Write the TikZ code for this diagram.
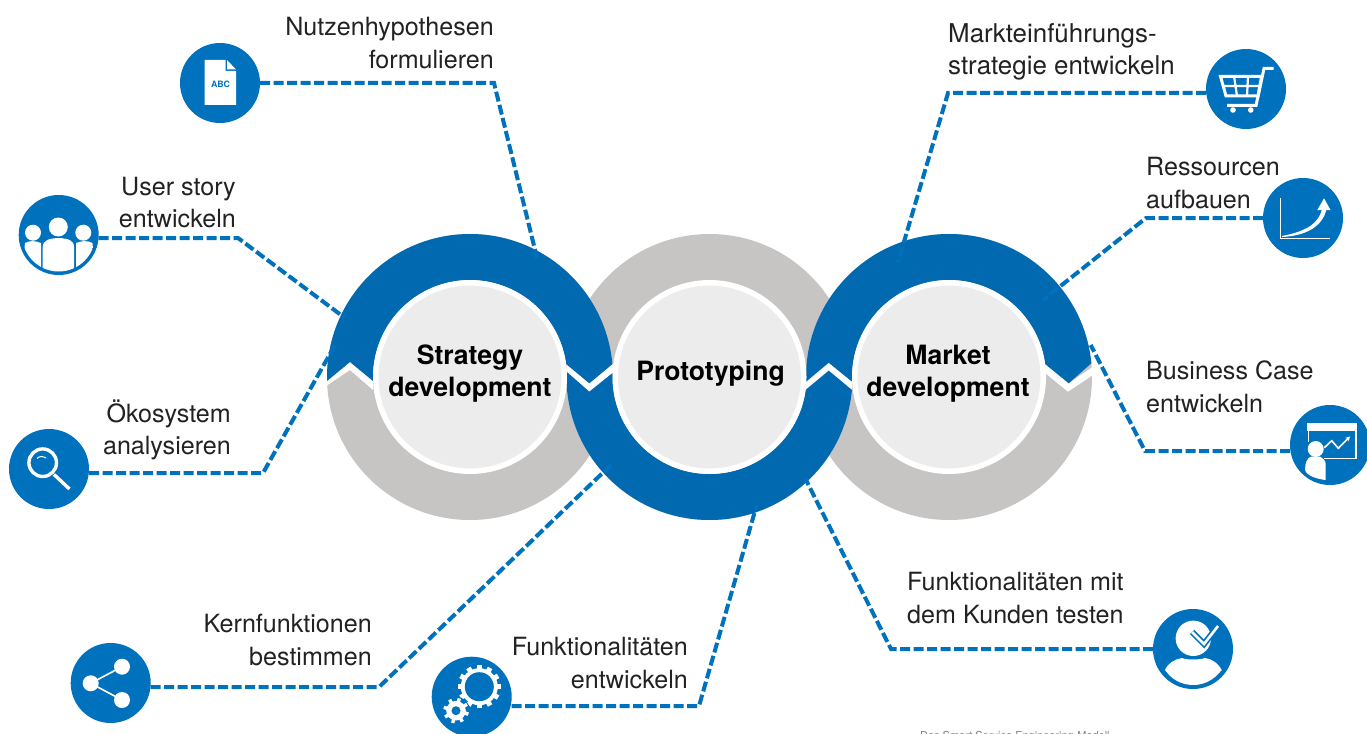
\documentclass[tikz,border=0pt]{standalone}
\usepackage{fontspec}
\setmainfont{TeX Gyre Heros}
\usetikzlibrary{arrows.meta}
\definecolor{ringblue}{HTML}{0069B0}
\definecolor{iconblue}{HTML}{0071BC}
\definecolor{ringgray}{HTML}{C6C5C3}
\definecolor{coregray}{HTML}{ECECEC}
\definecolor{inktext}{HTML}{222222}
\tikzset{
  ringdisc/.style={circle,fill=ringgray,minimum size=286bp,inner sep=0pt,outer sep=0pt},
  coredisc/.style={circle,fill=coregray,draw=white,line width=5.5bp,minimum size=188.5bp,inner sep=0pt,outer sep=0pt},
  corelabel/.style={align=center,text=black,font=\fontsize{26.7}{32.5}\selectfont\bfseries},
  iconcircle/.style={circle,fill=iconblue,minimum size=80bp,inner sep=0pt,outer sep=0pt},
  conn/.style={draw=iconblue,line width=4bp,dash pattern=on 10bp off 3.5bp},
  lbl/.style={text=inktext,font=\fontsize{25.2}{32.6}\selectfont,inner sep=0pt},
  lblR/.style={lbl,align=right,anchor=east},
  lblL/.style={lbl,align=left,anchor=west}
}
\begin{document}
\begin{tikzpicture}[x=1bp,y=-1bp]
\useasboundingbox (0,0) rectangle (1367,733);
\clip (0,0) rectangle (1367,733);
\fill[white] (0,0) rectangle (1367,733);
\coordinate (cS) at (470,377);
\coordinate (cP) at (709.5,377);
\coordinate (cM) at (949,377);
% grey rings
\node[ringdisc] (ringS) at (cS) {};
\node[ringdisc] (ringM) at (cM) {};
\node[ringdisc] (ringP) at (cP) {};
% white gaps
\fill[white] (320,381) -- (350,362) -- (373,381) -- (373,390) -- (350,370) -- (320,390) -- cycle;
\fill[white] (566.7,364) -- (589.3,383.3) -- (612.7,364) -- (613.3,373) -- (589.3,391.7) -- (566,371.7) -- cycle;
\fill[white] (805,381.7) -- (828.7,362.7) -- (852,381.7) -- (852,390) -- (828.7,370.7) -- (805,390) -- cycle;
\fill[white] (1045.3,364) -- (1068.7,383.3) -- (1098,363.3) -- (1098,371.7) -- (1068,391.7) -- (1045,373) -- cycle;
% blue arcs
\fill[ringblue] ([shift={(178.4:143)}]cS) arc[start angle=178.4,end angle=354.8,radius=143]
  -- (589.3,383.3) -- ([shift={(352.3:97)}]cS) arc[start angle=352.3,end angle=177.6,radius=97]
  -- (350,362) -- cycle;
\fill[ringblue] ([shift={(178.1:143)}]cM) arc[start angle=178.1,end angle=354.5,radius=143]
  -- (1068.7,383.3) -- ([shift={(352.3:97)}]cM) arc[start angle=352.3,end angle=177.2,radius=97]
  -- (828.7,362.7) -- cycle;
\fill[ringblue] ([shift={(5.2:143)}]cP) arc[start angle=5.2,end angle=182.1,radius=143]
  -- (589.3,391.7) -- ([shift={(182.4:97)}]cP) arc[start angle=182.4,end angle=7.7,radius=97]
  -- (828.7,370.7) -- cycle;
% cores
\node[coredisc] (coreS) at (cS) {};
\node[coredisc] (coreP) at (cP) {};
\node[coredisc] (coreM) at (cM) {};
\node[corelabel] (tS) at (470,373.5) {Strategy\\development};
\node[corelabel] (tP) at (710.5,373.5) {Prototyping};
\node[corelabel] (tM) at (948,373.5) {Market\\development};
% icon circles
\node[iconcircle] (iDoc) at (220,83) {};
\node[iconcircle] (iUser) at (58.7,235) {};
\node[iconcircle] (iLens) at (49,469) {};
\node[iconcircle] (iShare) at (110.7,683) {};
\node[iconcircle] (iGear) at (471.7,696.7) {};
\node[iconcircle] (iCheck) at (1193,649) {};
\node[iconcircle] (iPres) at (1330,445) {};
\node[iconcircle] (iGrow) at (1303,218) {};
\node[iconcircle] (iCart) at (1246,89) {};
% connector way points
\coordinate (a1) at (494,83);   \coordinate (b1) at (538,262);
\coordinate (a2) at (238,238);  \coordinate (b2) at (345,318);
\coordinate (a3) at (263,473);  \coordinate (b3) at (335,345);
\coordinate (a4) at (379,687);  \coordinate (b4) at (613,463);
\coordinate (a5) at (699,706);  \coordinate (b5) at (756.7,505);
\coordinate (a6) at (891,649);  \coordinate (b6) at (805,478);
\coordinate (a7) at (1145,451); \coordinate (b7) at (1090.7,345);
\coordinate (a8) at (1146,218); \coordinate (b8) at (1043,300);
\coordinate (a9) at (948,93);   \coordinate (b9) at (898,262);
\draw[conn] (iDoc.east) -- (a1) -- (b1);
\draw[conn] (iUser.east |- a2) -- (a2) -- (b2);
\draw[conn] (iLens.east |- a3) -- (a3) -- (b3);
\draw[conn] (iShare.east |- a4) -- (a4) -- (b4);
\draw[conn] (iGear.east |- a5) -- (a5) -- (b5);
\draw[conn] (iCheck.west) -- (a6) -- (b6);
\draw[conn] (iPres.west |- a7) -- (a7) -- (b7);
\draw[conn] (iGrow.west) -- (a8) -- (b8);
\draw[conn] (iCart.west |- a9) -- (a9) -- (b9);
% labels
\node[lblR] (l1) at (494,43) {Nutzenhypothesen\\formulieren};
\node[lblR] (l2) at (236,202.5) {User story\\entwickeln};
\node[lblR] (l3) at (231,430) {Ökosystem\\analysieren};
\node[lblR] (l4) at (372,640) {Kernfunktionen\\bestimmen};
\node[lblR] (l5) at (688,663) {Funktionalitäten\\entwickeln};
\node[lblL] (l6) at (907,598) {Funktionalitäten mit\\dem Kunden testen};
\node[lblL] (l7) at (1146,387) {Business Case\\entwickeln};
\node[lblL] (l8) at (1146,183) {Ressourcen\\aufbauen};
\node[lblL,font=\fontsize{26}{32.6}\selectfont] (l9) at (948,52) {Markteinführungs-\\strategie entwickeln};
% --- document icon
\fill[white] (204.7,60) -- (225.5,60) -- (225.5,71) -- (236,71) -- (236,105) -- (204.7,105) -- cycle;
\fill[white] (227,60) -- (236,69.5) -- (227,69.5) -- cycle;
\node[text=iconblue,font=\fontsize{8.8}{10}\selectfont\bfseries,inner sep=0pt] (abc) at (220.5,84) {ABC};
% --- people icon
\begin{scope}
\clip (58.7,235) circle[radius=36.5];
\fill[white] (25,243) .. controls (30,240) and (36,241) .. (41,243) -- (41,275) -- (22,275) -- cycle;
\fill[white] (92.5,243) .. controls (87,240) and (81,241) .. (76,243) -- (76,275) -- (95,275) -- cycle;
\fill[white] (42.7,247) .. controls (43,240) and (49,238.5) .. (58.5,238) .. controls (68,238.5) and (74,240) .. (74,247) -- (74,275) -- (42.7,275) -- cycle;
\end{scope}
\fill[white] (58.3,227) circle[radius=9.5];
\fill[white] (33,232.7) circle[radius=8];
\fill[white] (83.3,232.7) circle[radius=8];
% --- magnifier icon
\draw[white,line width=3.4bp] (42.7,462.7) circle[radius=13.8];
\draw[white,line width=3.4bp] (54,474.5) -- (69.5,489);
\draw[white,line width=1bp] (37,458.5) .. controls (39,456) and (43,456) .. (46,458);
% --- share icon
\draw[white,line width=1.6bp] (122,666.7) -- (90.7,683.3) -- (122,700);
\fill[white] (90.7,683.3) circle[radius=8];
\fill[white] (122,666.7) circle[radius=8];
\fill[white] (122,700) circle[radius=8];
% --- gears icon
\begin{scope}[shift={(479.3,686.7)}]
\foreach \a in {0,30,...,330} \draw[white,line width=5bp] (\a:14) -- (\a:21.7);
\fill[white] (0,0) circle[radius=18.5];
\fill[iconblue] (0,0) circle[radius=14.5];
\end{scope}
\begin{scope}[shift={(456,710.7)}]
\fill[iconblue] (0,0) circle[radius=14];
\foreach \a in {15,60,...,375} \draw[white,line width=3.4bp] (\a:8) -- (\a:12.7);
\fill[white] (0,0) circle[radius=9.8];
\fill[iconblue] (0,0) circle[radius=4.5];
\end{scope}
% --- cart icon
\draw[white,line width=3bp,line join=miter] (1220.5,76.5) -- (1261.5,76.5) -- (1258,96) -- (1226,96) -- cycle;
\draw[white,line width=2.2bp] (1223,86) -- (1260,86) (1234,76) -- (1237,96) (1248,76) -- (1247,96);
\draw[white,line width=3bp] (1273.5,68.5) -- (1264,68.5) -- (1256,105.5) -- (1227,105.5);
\fill[white] (1233,110) circle[radius=2.8];
\fill[white] (1250.7,110) circle[radius=2.8];
% --- growth icon
\draw[white,line width=1.5bp] (1280.7,198.3) -- (1280.7,238.3) -- (1330,238.3);
\fill[white] (1282,236) .. controls (1302,232) and (1318,226) .. (1322,209) -- (1326.5,209) .. controls (1322,229) and (1302,236) .. (1282,237) -- cycle;
\fill[white] (1324,198.3) -- (1330.5,210) -- (1317.3,210) -- cycle;
% --- presentation icon
\fill[white] (1306.7,423.3) rectangle (1357.3,430.7);
\draw[white,line width=1.1bp] (1308.5,430) -- (1308.5,442) (1324,458.2) -- (1356,458.2) -- (1356,430);
\draw[white,line width=1.6bp,-{Stealth[length=4.5bp,width=5bp]}] (1324.3,447.7) -- (1331.7,440.7) -- (1338.3,448.3) -- (1350,436.5);
\fill[white] (1315.7,449) circle[radius=8];
\fill[white] (1305,470) .. controls (1305,463) and (1307,458) .. (1311,456.5) -- (1320,456.5) .. controls (1323,458) and (1325.7,461) .. (1325.7,464) -- (1325.7,480) .. controls (1317,479) and (1307,476) .. (1305,470) -- cycle;
% --- person with check icon
\fill[white] (1193.3,638.3) circle[radius=17.7];
\fill[white] (1165,670) .. controls (1168,663) and (1175,659) .. (1182,658) .. controls (1186,660) and (1200,660) .. (1205,658) .. controls (1212,659) and (1218,663) .. (1221.7,670) .. controls (1214,680) and (1204,685) .. (1193.3,685) .. controls (1182,685) and (1172,680) .. (1165,670) -- cycle;
\draw[iconblue,line width=6bp] (1192,632) -- (1204,644) -- (1218,626);
\draw[white,line width=2.6bp] (1192,632) -- (1204,644) -- (1218,626);
% --- clipped caption
\node[anchor=north west,inner sep=0pt,text=gray,font=\fontsize{11}{13}\selectfont] (src) at (920,731.5) {Das Smart Service Engineering-Modell};
\end{tikzpicture}
\end{document}
